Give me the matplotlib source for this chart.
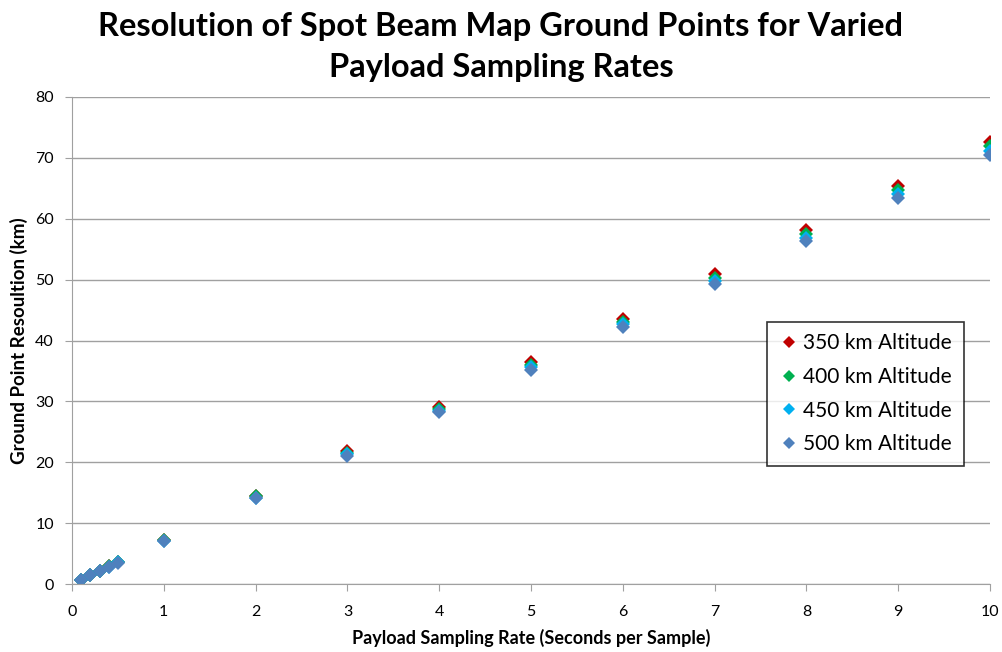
import matplotlib.pyplot as plt

# sampling rates (seconds per sample)
rates = [0.1, 0.2, 0.3, 0.4, 0.5, 1, 2, 3, 4, 5, 6, 7, 8, 9, 10]

# ground point resolution (km)
res_350 = [0.73, 1.46, 2.18, 2.91, 3.64, 7.3, 14.5, 21.8, 29.1, 36.4, 43.6, 50.9, 58.2, 65.4, 72.6]
res_400 = [0.72, 1.44, 2.16, 2.88, 3.60, 7.2, 14.4, 21.6, 28.8, 36.0, 43.1, 50.3, 57.5, 64.7, 71.9]
res_450 = [0.71, 1.42, 2.13, 2.85, 3.56, 7.1, 14.2, 21.3, 28.5, 35.6, 42.7, 49.8, 56.9, 64.0, 71.1]
res_500 = [0.70, 1.41, 2.11, 2.82, 3.52, 7.0, 14.1, 21.1, 28.2, 35.2, 42.2, 49.3, 56.3, 63.4, 70.4]

series = [
    ('350 km Altitude', res_350, '#C00000'),
    ('400 km Altitude', res_400, '#00B050'),
    ('450 km Altitude', res_450, '#00B0F0'),
    ('500 km Altitude', res_500, '#4F81BD'),
]

plt.rcParams['font.family'] = ['Lato', 'DejaVu Sans']

fig = plt.figure(figsize=(10.02, 6.52), dpi=100)
ax = fig.add_axes([72 / 1002, 1 - 584 / 652, 918 / 1002, 487 / 652])

for label, vals, color in series:
    ax.plot(rates, vals, linestyle='none', marker='D', markersize=7.5,
            color=color, markeredgewidth=0, label=label)

ax.set_xlim(0, 10)
ax.set_ylim(0, 80)
ax.set_xticks(range(0, 11))
ax.set_yticks(range(0, 81, 10))
ax.grid(axis='y', color='#A0A0A0', linewidth=1)
ax.set_axisbelow(True)
for side in ['top', 'right']:
    ax.spines[side].set_visible(False)
for side in ['left', 'bottom']:
    ax.spines[side].set_color('#A0A0A0')
ax.tick_params(axis='both', colors='#A0A0A0', length=5, labelcolor='black', labelsize=11.5)
ax.tick_params(axis='x', pad=10)
ax.tick_params(axis='y', pad=8)

ax.set_xlabel('Payload Sampling Rate (Seconds per Sample)', fontsize=13, fontweight='bold', labelpad=7)
ax.set_ylabel('Ground Point Resoultion (km)', fontsize=13.5, fontweight='bold', labelpad=5)

fig.suptitle('Resolution of Spot Beam Map Ground Points for Varied\nPayload Sampling Rates',
             fontsize=23.5, fontweight='bold', y=1 - 12 / 652, va='top', linespacing=1.5)

leg = ax.legend(loc='upper left', bbox_to_anchor=(695 / 918, (584 - 322) / 487),
                borderaxespad=0, frameon=True, fancybox=False, edgecolor='black', fontsize=15,
                handletextpad=0.2, handlelength=1.0, labelspacing=0.65, borderpad=0.55,
                markerscale=0.85)
leg.get_frame().set_linewidth(1.2)

fig.savefig('out.png', dpi=100)
